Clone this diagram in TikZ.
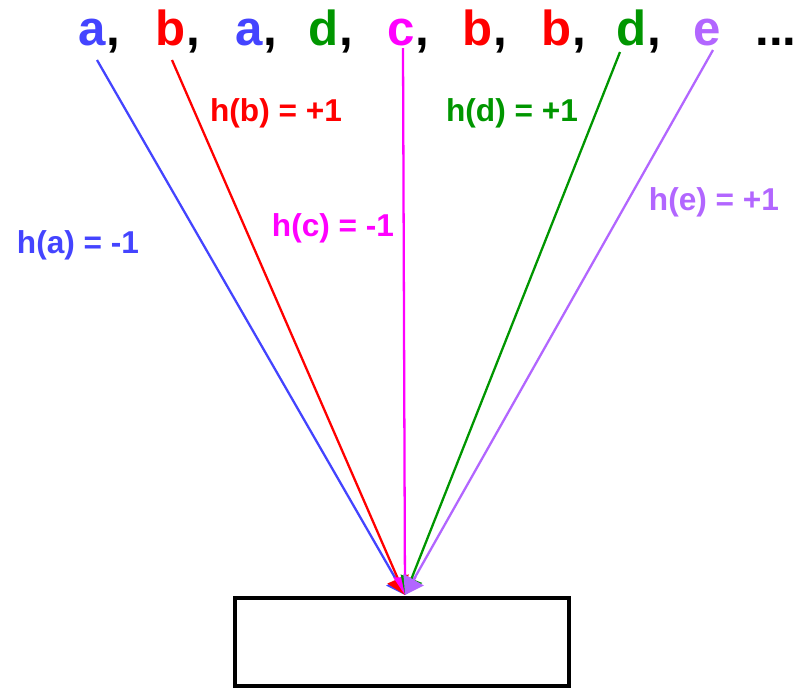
\documentclass[tikz,border=0pt]{standalone}
\usepackage{fontspec}
\setmainfont{Liberation Sans}
\usetikzlibrary{arrows.meta,positioning}
\definecolor{ItemBlue}{RGB}{68,68,255}
\definecolor{ItemRed}{RGB}{255,0,0}
\definecolor{ItemPink}{RGB}{255,0,255}
\definecolor{ItemGreen}{RGB}{0,150,0}
\definecolor{ItemPurple}{RGB}{178,102,255}

\begin{document}
\begin{tikzpicture}[
      x=0.02cm,y=-0.02cm,
      item/.style={inner sep=0pt,anchor=base,font=\fontsize{28}{30}\selectfont\bfseries},
      sep/.style={inner sep=0pt,anchor=base west,font=\fontsize{28}{30}\selectfont\bfseries},
      hash/.style={font=\fontsize{18}{20}\selectfont\bfseries},
      ray/.style={-{Triangle[length=10pt,width=13pt]},line width=1.3pt}
    ]
      \useasboundingbox (0,0) rectangle (802,691);

      % stream of items
      \node[item,text=ItemBlue] (s1) at (92,45) {a};
      \node[sep] (k1) at (s1.base east) {,};
      \node[item,text=ItemRed] (s2) at (171,45) {b};
      \node[sep] (k2) at (s2.base east) {,};
      \node[item,text=ItemBlue] (s3) at (249,45) {a};
      \node[sep] (k3) at (s3.base east) {,};
      \node[item,text=ItemGreen] (s4) at (324,45) {d};
      \node[sep] (k4) at (s4.base east) {,};
      \node[item,text=ItemPink] (s5) at (401,45) {c};
      \node[sep] (k5) at (s5.base east) {,};
      \node[item,text=ItemRed] (s6) at (478,45) {b};
      \node[sep] (k6) at (s6.base east) {,};
      \node[item,text=ItemRed] (s7) at (557,45) {b};
      \node[sep] (k7) at (s7.base east) {,};
      \node[item,text=ItemGreen] (s8) at (632,45) {d};
      \node[sep] (k8) at (s8.base east) {,};
      \node[item,text=ItemPurple] (s9) at (707,45) {e};
      \node[item] (more) at (776,45) {...};

      % counter
      \node[draw,line width=2.4pt,minimum width=6.68cm,minimum height=1.76cm] (box) at (402,642) {};
      \coordinate (sink) at (405,595);

      \draw[ray,ItemBlue] ([shift={(5,15)}]s1.base) -- (sink);
      \draw[ray,ItemRed] ([shift={(1,15)}]s2.base) -- (sink);
      \draw[ray,ItemPink] ([shift={(2,3)}]s5.base) -- (sink);
      \draw[ray,ItemGreen] ([shift={(-12,7)}]s8.base) -- (sink);
      \draw[ray,ItemPurple] ([shift={(6,5)}]s9.base) -- (sink);

      \node[hash,text=ItemBlue] (ha) at (78,245) {h(a) = -1};
      \node[hash,text=ItemRed] (hb) at (276,113) {h(b) = +1};
      \node[hash,text=ItemPink] (hc) at (333,228) {h(c) = -1};
      \node[hash,text=ItemGreen] (hd) at (512,113) {h(d) = +1};
      \node[hash,text=ItemPurple] (he) at (714,202) {h(e) = +1};
    \end{tikzpicture}
\end{document}
